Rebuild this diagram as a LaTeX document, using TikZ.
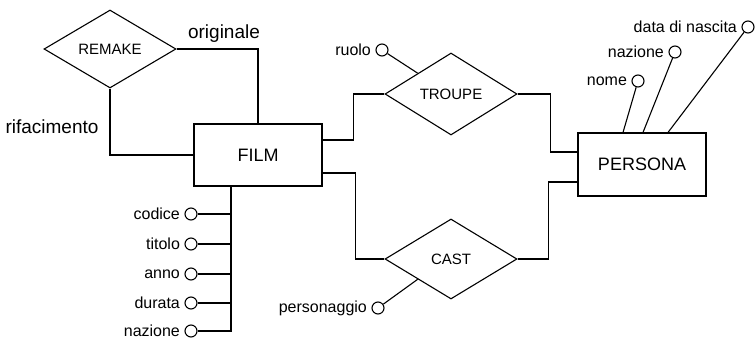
\documentclass[tikz,border=0pt]{standalone}
\usepackage{fontspec}
\setmainfont{Liberation Sans}
\usetikzlibrary{shapes.geometric}
\tikzset{%
	entity box/.style={
		rectangle,
		draw,
		minimum width=128pt,
		minimum height=62pt,
		font=\fontsize{18}{20}\selectfont
	},
	relation diamond/.style={
		diamond,
		draw,
		inner sep=0pt,
		minimum width=132pt,
		minimum height=80pt,
		font=\fontsize{15}{17}\selectfont
	},
	attribute circle/.style={
		circle,
		draw,
		inner sep=0pt,
		minimum size=12pt,
		label distance=4pt
	},
	attribute text/.style={
		inner xsep=4pt,
		inner ysep=1pt,
		font=\fontsize{16}{18}\selectfont
	},
	role label/.style={
		font=\fontsize{19}{21}\selectfont
	},
}
\begin{document}
\begin{tikzpicture}[x=1pt, y=-1pt, line width=1.1pt, every label/.style={attribute text}]
	\useasboundingbox (0,0) rectangle (755,339);

	% Draw the entities
	\node[entity box] (film) at (258,155) {FILM};
	\node[entity box, minimum height=63pt] (persona) at (642,164.5) {PERSONA};

	% Draw the relationships
	\node[relation diamond, minimum height=78pt] (remake) at (110,49) {REMAKE};
	\node[relation diamond, minimum height=82pt] (troupe) at (451,94) {TROUPE};
	\node[relation diamond] (cast) at (451,259) {CAST};

	% Draw the remake ring with its roles
	\draw (remake.east) -| (film.north);
	\draw (remake.south) |- (film.west);
	\node[role label] (originale) at (224,34) {originale};
	\node[role label] (rifacimento) at (52,127) {rifacimento};

	% Draw the links
	\draw ([yshift=15pt]film.east) -- ++(31,0) |- (troupe.west);
	\draw ([yshift=-18pt]film.east) -- ++(33,0) |- (cast.west);
	\draw (troupe.east) -- ++(33,0) |- ([yshift=12.5pt]persona.west);
	\draw (cast.east) -- ++(31,0) |- ([yshift=-17.5pt]persona.west);

	% Draw the film attributes
	\coordinate (spine) at (231,332);
	\draw ([xshift=-27pt]film.south) -- (spine);
	\foreach \name/\y in {codice/214, titolo/244, anno/274, durata/303, nazione/331} {
		\node[attribute circle, label=left:\name] (f-\name) at (191,\y) {};
		\draw (f-\name) -- (f-\name -| spine);
	}

	% Draw the persona attributes
	\node[attribute circle, label=left:nome] (p-nome) at (638,81) {};
	\node[attribute circle, label=left:nazione] (p-nazione) at (675,52) {};
	\node[attribute circle, label=left:data di nascita] (p-nascita) at (748,27) {};
	\draw (p-nome) -- ([xshift=-19pt]persona.north);
	\draw (p-nazione) -- ([xshift=1pt]persona.north);
	\draw (p-nascita) -- ([xshift=26pt]persona.north);

	% Draw the relationship attributes
	\node[attribute circle, label=left:ruolo] (ruolo) at (382,50) {};
	\draw (ruolo) -- (troupe.north west);
	\node[attribute circle, label=left:personaggio] (personaggio) at (378,308) {};
	\draw (personaggio) -- (cast.south west);
\end{tikzpicture}
\end{document}
